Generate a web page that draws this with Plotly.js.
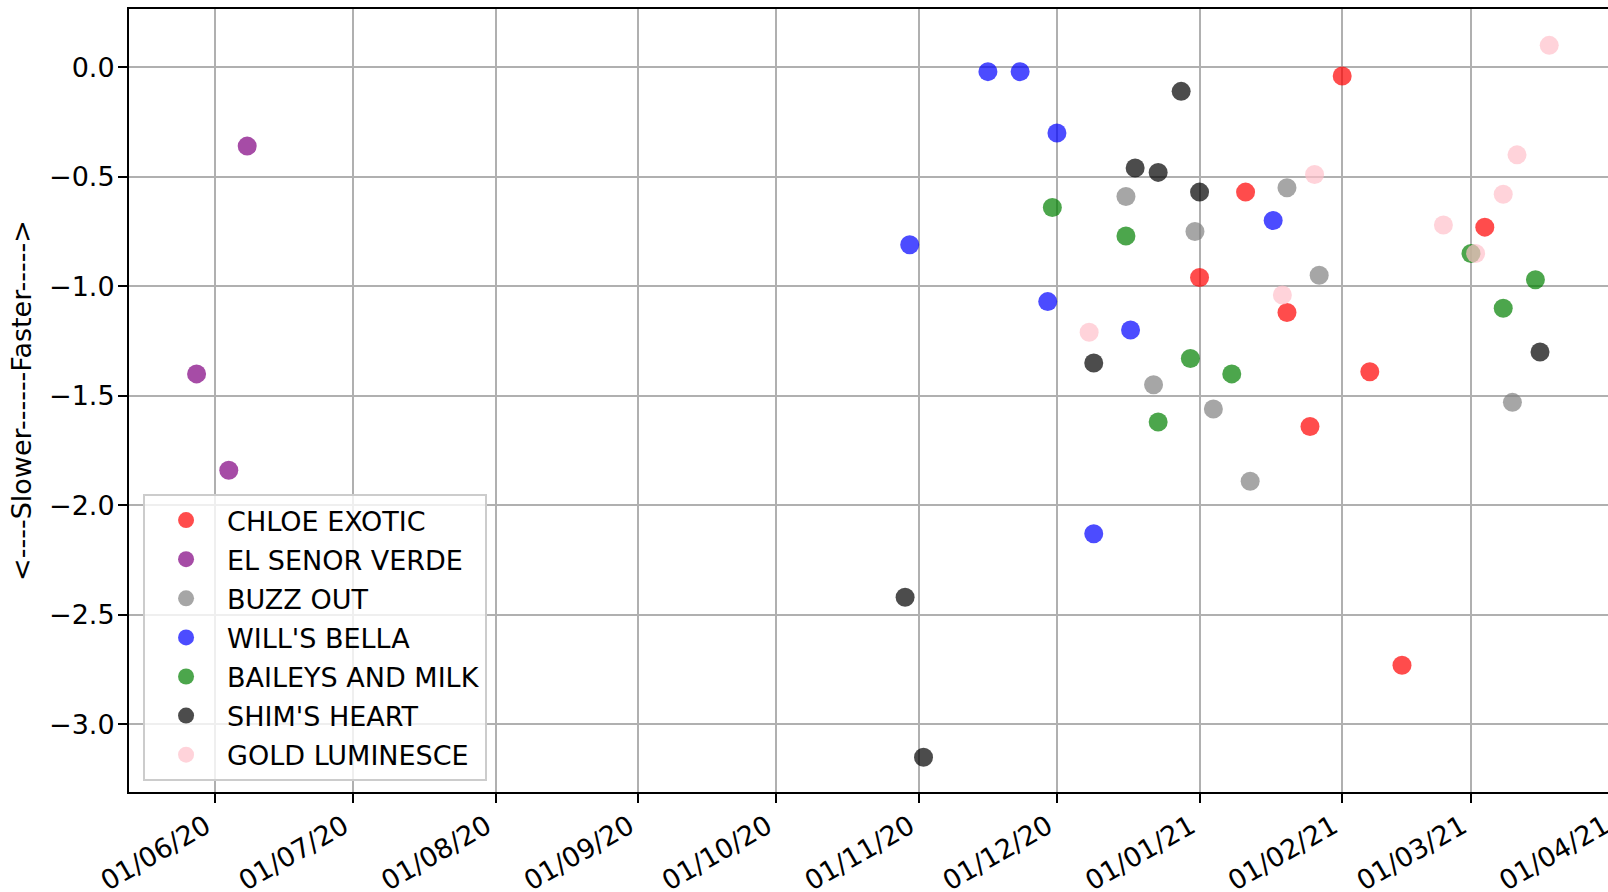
<!DOCTYPE html>
<html>
<head>
<meta charset="utf-8">
<script src="https://cdn.plot.ly/plotly-3.0.1.min.js"></script>
<style>
  html, body { margin: 0; padding: 0; overflow: hidden; background: #ffffff; }
  #chart { width: 1660px; height: 892px; }
</style>
</head>
<body>
<div id="chart"></div>
<script>
// ---- data ----
const seriesNames = ["CHLOE EXOTIC", "EL SENOR VERDE", "BUZZ OUT", "WILL'S BELLA", "BAILEYS AND MILK", "SHIM'S HEART", "GOLD LUMINESCE"];
const seriesColors = ["rgba(255,0,0,0.7)", "rgba(128,0,128,0.7)", "rgba(128,128,128,0.7)", "rgba(0,0,255,0.7)", "rgba(0,128,0,0.7)", "rgba(0,0,0,0.7)", "rgba(255,192,203,0.7)"];

const chloeDates = ["2021-01-01", "2021-01-11", "2021-01-20", "2021-01-25", "2021-02-01", "2021-02-07", "2021-02-14", "2021-03-04"];
const chloeValues = [-0.96, -0.57, -1.12, -1.64, -0.04, -1.39, -2.73, -0.73];

const verdeDates = ["2020-05-28", "2020-06-04", "2020-06-08"];
const verdeValues = [-1.40, -1.84, -0.36];

const buzzDates = ["2020-12-16", "2020-12-22", "2020-12-31", "2021-01-04", "2021-01-12", "2021-01-20", "2021-01-27", "2021-03-10"];
const buzzValues = [-0.59, -1.45, -0.75, -1.56, -1.89, -0.55, -0.95, -1.53];

const bellaDates = ["2020-10-30", "2020-11-16", "2020-11-23", "2020-11-29", "2020-12-01", "2020-12-09", "2020-12-17", "2021-01-17"];
const bellaValues = [-0.81, -0.02, -0.02, -1.07, -0.30, -2.13, -1.20, -0.70];

const baileysDates = ["2020-11-30", "2020-12-16", "2020-12-23", "2020-12-30", "2021-01-08", "2021-03-01", "2021-03-08", "2021-03-15"];
const baileysValues = [-0.64, -0.77, -1.62, -1.33, -1.40, -0.85, -1.10, -0.97];

const shimDates = ["2020-10-29", "2020-11-02", "2020-12-09", "2020-12-18", "2020-12-23", "2020-12-28", "2021-01-01", "2021-03-16"];
const shimValues = [-2.42, -3.15, -1.35, -0.46, -0.48, -0.11, -0.57, -1.30];

const goldDates = ["2020-12-08", "2021-01-19", "2021-01-26", "2021-02-23", "2021-03-02", "2021-03-08", "2021-03-11", "2021-03-18"];
const goldValues = [-1.21, -1.04, -0.49, -0.72, -0.85, -0.58, -0.40, 0.10];

const yTitle = "<----Slower------Faster----->";
const xTickFormat = "%d/%m/%y";

// ---- traces ----
const seriesDates = [chloeDates, verdeDates, buzzDates, bellaDates, baileysDates, shimDates, goldDates];
const seriesValues = [chloeValues, verdeValues, buzzValues, bellaValues, baileysValues, shimValues, goldValues];

const traces = seriesNames.map((name, i) => ({
  type: "scatter",
  mode: "markers",
  name: name,
  legendgroup: "g" + i,
  x: seriesDates[i],
  y: seriesValues[i],
  marker: { size: 19, color: seriesColors[i], line: { width: 0 } }
}));

const FONT = "DejaVu Sans, Liberation Sans, sans-serif";

const layout = {
  width: 1660,
  height: 892,
  margin: { l: 129, r: 20, t: 9, b: 100, autoexpand: false },
  paper_bgcolor: "#ffffff",
  plot_bgcolor: "#ffffff",
  font: { family: FONT, size: 27, color: "#000000" },
  showlegend: true,
  legend: {
    x: 0.0093, y: 0.014, xanchor: "left", yanchor: "bottom",
    bgcolor: "rgba(255,255,255,0.8)",
    bordercolor: "#cccccc",
    borderwidth: 2,
    font: { family: FONT, size: 27, color: "#000000" },
    itemsizing: "trace",
    itemwidth: 72,
    traceorder: "grouped",
    tracegroupgap: 1
  },
  xaxis: {
    type: "date",
    range: ["2020-05-13 07:30", "2021-04-06 17:30"],
    tick0: "2020-06-01",
    dtick: "M1",
    tickformat: xTickFormat,
    tickangle: -30,
    ticks: "outside",
    ticklen: 9,
    tickwidth: 2,
    tickcolor: "#000000",
    ticklabelstandoff: -3,
    ticklabelshift: -9,
    showgrid: true,
    gridcolor: "#b0b0b0",
    gridwidth: 2,
    showline: true,
    linecolor: "#000000",
    linewidth: 2,
    mirror: true,
    zeroline: false,
    automargin: false,
    tickfont: { family: FONT, size: 27, color: "#000000" }
  },
  yaxis: {
    range: [-3.309, 0.266],
    tick0: 0,
    dtick: 0.5,
    tickformat: ".1f",
    ticks: "outside",
    ticklen: 9,
    tickwidth: 2,
    tickcolor: "#000000",
    ticklabelstandoff: -2,
    showgrid: true,
    gridcolor: "#b0b0b0",
    gridwidth: 2,
    showline: true,
    linecolor: "#000000",
    linewidth: 2,
    zeroline: false,
    automargin: false,
    tickfont: { family: FONT, size: 27, color: "#000000" },
    title: { text: yTitle, font: { family: FONT, size: 27, color: "#000000" }, standoff: 10 }
  }
};

Plotly.newPlot("chart", traces, layout, { displayModeBar: false, staticPlot: true });
</script>
</body>
</html>
